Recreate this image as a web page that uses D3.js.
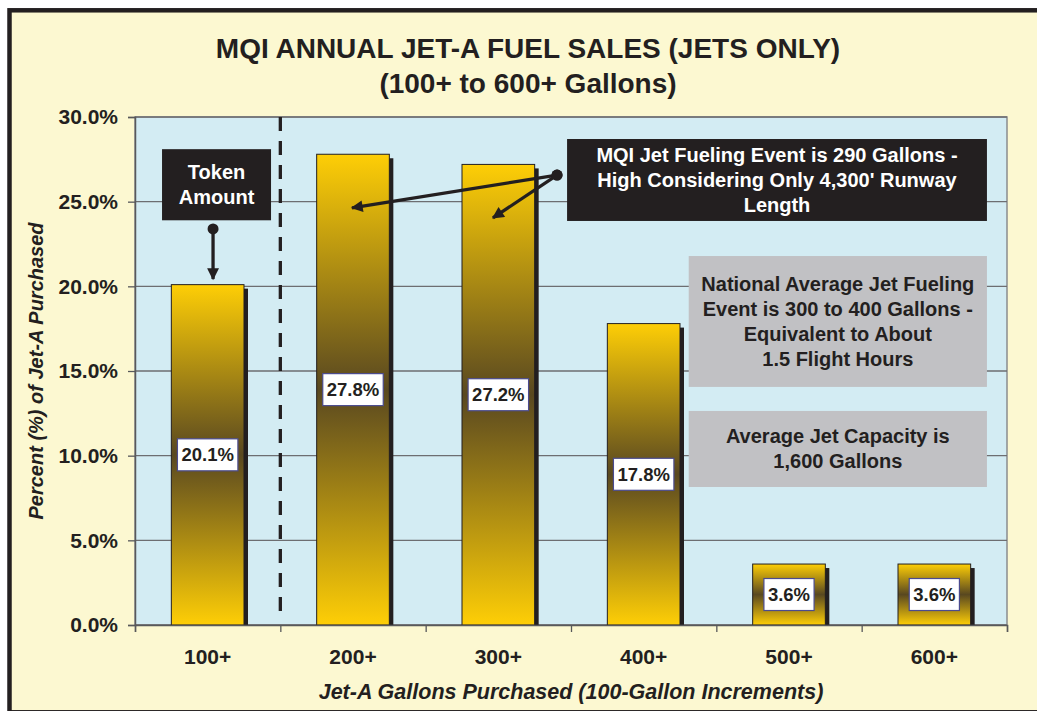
<!DOCTYPE html>
<html>
<head>
<meta charset="utf-8">
<script src="https://cdn.jsdelivr.net/npm/d3@7"></script>
<style>
  body { margin: 0; background: #ffffff; }
  text { font-family: "Liberation Sans", Arial, Helvetica, sans-serif; font-weight: bold; fill: #231f20; }
</style>
</head>
<body>
<svg id="chart" width="1037" height="711"></svg>
<script>
// Chart data
var categories = ["100+", "200+", "300+", "400+", "500+", "600+"];
var percents = [20.1, 27.8, 27.2, 17.8, 3.6, 3.6];
var yTicks = [0, 5, 10, 15, 20, 25, 30];

var titleLines = ["MQI ANNUAL JET-A FUEL SALES (JETS ONLY)", "(100+ to 600+ Gallons)"];
var yTitle = "Percent (%) of Jet-A Purchased";
var xTitle = "Jet-A Gallons Purchased (100-Gallon Increments)";

// Callout boxes, placed in chart units (x in category slots, y in percent)
var callouts = [
  { lines: ["Token", "Amount"], x0: 0.186, x1: 0.936, y0: 28.1, y1: 23.9, fill: "#231f20", color: "#ffffff" },
  { lines: ["MQI Jet Fueling Event is 290 Gallons -", "High Considering Only 4,300' Runway", "Length"],
    x0: 2.973, x1: 5.862, y0: 28.7, y1: 23.86, fill: "#231f20", color: "#ffffff" },
  { lines: ["National Average Jet Fueling", "Event is 300 to 400 Gallons -", "Equivalent to About", "1.5 Flight Hours"],
    x0: 3.81, x1: 5.862, y0: 21.79, y1: 14.06, fill: "#c1c1c4", color: "#231f20" },
  { lines: ["Average Jet Capacity is", "1,600 Gallons"],
    x0: 3.81, x1: 5.862, y0: 12.64, y1: 8.15, fill: "#c1c1c4", color: "#231f20" }
];

// Pointer arrows: start dot -> arrow tip
var pointers = [
  { fx: 0.537, fy: 23.39, tx: 0.537, ty: 20.43 },
  { fx: 2.904, fy: 26.57, tx: 1.493, ty: 24.63 },
  { fx: 2.904, fy: 26.57, tx: 2.463, ty: 24.04 }
];

var svgWidth = 1037;
var svgHeight = 711;
var margin = { top: 117, right: 30, bottom: 86, left: 135 };
var chartWidth = svgWidth - margin.left - margin.right;
var chartHeight = svgHeight - margin.top - margin.bottom;

var svg = d3.select("#chart");

// Gradient for bars: yellow - dark brown - yellow
var defs = svg.append("defs");
var grad = defs.append("linearGradient")
  .attr("id", "barGrad")
  .attr("x1", 0).attr("y1", 0).attr("x2", 0).attr("y2", 1);
grad.append("stop").attr("offset", "0%").attr("stop-color", "#fece06");
grad.append("stop").attr("offset", "50%").attr("stop-color", "#594820");
grad.append("stop").attr("offset", "100%").attr("stop-color", "#fece06");

defs.append("marker")
  .attr("id", "head")
  .attr("viewBox", "0 0 10 10")
  .attr("refX", 9).attr("refY", 5)
  .attr("markerWidth", 4.2).attr("markerHeight", 3.6)
  .attr("markerUnits", "strokeWidth")
  .attr("orient", "auto")
  .append("path")
  .attr("d", "M0,0 L10,5 L0,10 Z")
  .attr("fill", "#231f20");

// Outer frame
svg.append("rect")
  .attr("x", 9.5).attr("y", 10.3)
  .attr("width", 1045).attr("height", 702)
  .attr("fill", "#fcf8d1")
  .attr("stroke", "#231f20")
  .attr("stroke-width", 4.5);

// Title
svg.selectAll(".title")
  .data(titleLines)
  .enter().append("text")
  .attr("class", "title")
  .attr("x", 528)
  .attr("y", (d, i) => 58 + i * 35)
  .attr("text-anchor", "middle")
  .style("font-size", "28px")
  .text(d => d);

var chartGroup = svg.append("g")
  .attr("transform", `translate(${margin.left}, ${margin.top})`);

var xScale = d3.scaleBand()
  .domain(categories)
  .range([0, chartWidth])
  .paddingInner(0.5)
  .paddingOuter(0.25);

// continuous slot scale (0..6) used for boundaries and callouts
var xSlot = d3.scaleLinear()
  .domain([0, categories.length])
  .range([0, chartWidth]);

var yScale = d3.scaleLinear()
  .domain([0, 30])
  .range([chartHeight, 0]);

// Plot background
chartGroup.append("rect")
  .attr("width", chartWidth)
  .attr("height", chartHeight)
  .attr("fill", "#d3ecf3")
  .attr("stroke", "#8a8c8e")
  .attr("stroke-width", 1.5);

// Gridlines
chartGroup.selectAll(".grid")
  .data(yTicks)
  .enter().append("line")
  .attr("x1", 0).attr("x2", chartWidth)
  .attr("y1", d => yScale(d)).attr("y2", d => yScale(d))
  .attr("stroke", "#6d6e71")
  .attr("stroke-width", 1.3);

// Dashed divider between 100+ and 200+
chartGroup.append("line")
  .attr("x1", xSlot(1)).attr("x2", xSlot(1))
  .attr("y1", 0).attr("y2", chartHeight - 5)
  .attr("stroke", "#231f20")
  .attr("stroke-width", 3.3)
  .attr("stroke-dasharray", "14,10");

// Bars with shadow
var bars = chartGroup.selectAll(".bar")
  .data(percents)
  .enter().append("g")
  .attr("class", "bar");

bars.append("rect")
  .attr("x", (d, i) => xScale(categories[i]) + 4)
  .attr("y", d => yScale(d) + 4)
  .attr("width", xScale.bandwidth())
  .attr("height", d => chartHeight - yScale(d) - 4)
  .attr("fill", "#231f20");

bars.append("rect")
  .attr("x", (d, i) => xScale(categories[i]))
  .attr("y", d => yScale(d))
  .attr("width", xScale.bandwidth())
  .attr("height", d => chartHeight - yScale(d))
  .attr("fill", "url(#barGrad)")
  .attr("stroke", "#231f20")
  .attr("stroke-width", 1);

// Value labels
bars.each(function(d, i) {
  var g = d3.select(this);
  var cx = xScale(categories[i]) + xScale.bandwidth() / 2;
  var cy = (yScale(d) + chartHeight) / 2;
  var box = g.append("rect")
    .attr("fill", "#ffffff")
    .attr("stroke", "#4b4b8f")
    .attr("stroke-width", 1.2);
  var t = g.append("text")
    .attr("x", cx)
    .attr("y", cy)
    .attr("dy", "0.36em")
    .attr("text-anchor", "middle")
    .style("font-size", "18.5px")
    .text(d.toFixed(1) + "%");
  var w = t.node().getComputedTextLength() + 8;
  box.attr("x", cx - w / 2).attr("y", cy - 16)
    .attr("width", w).attr("height", 32);
});

// Axes
var leftAxis = d3.axisLeft(yScale)
  .tickValues(yTicks)
  .tickSize(7)
  .tickPadding(10)
  .tickFormat(d => d.toFixed(1) + "%");

var yAxisG = chartGroup.append("g")
  .classed("axis", true)
  .call(leftAxis);
yAxisG.select(".domain").attr("stroke", "#58595b").attr("stroke-width", 1.5);
yAxisG.selectAll(".tick line").attr("stroke", "#58595b").attr("stroke-width", 1.3);
yAxisG.selectAll(".tick text")
  .style("font-size", "21px")
  .style("font-family", "'Liberation Sans', Arial, sans-serif")
  .style("font-weight", "bold")
  .attr("fill", "#231f20");

var boundaryAxis = d3.axisBottom(xSlot)
  .tickValues(d3.range(categories.length + 1))
  .tickSize(7)
  .tickFormat("");

var bAxisG = chartGroup.append("g")
  .attr("transform", "translate(0, " + chartHeight + ")")
  .call(boundaryAxis);
bAxisG.select(".domain").attr("stroke", "#58595b").attr("stroke-width", 1.5);
bAxisG.selectAll(".tick line").attr("stroke", "#58595b").attr("stroke-width", 1.3);

var bottomAxis = d3.axisBottom(xScale).tickSize(0).tickPadding(24);
var xAxisG = chartGroup.append("g")
  .attr("transform", "translate(0, " + chartHeight + ")")
  .call(bottomAxis);
xAxisG.select(".domain").remove();
xAxisG.selectAll(".tick text")
  .style("font-size", "21px")
  .style("font-family", "'Liberation Sans', Arial, sans-serif")
  .style("font-weight", "bold")
  .attr("fill", "#231f20");

// Axis titles
svg.append("text")
  .attr("transform", `translate(43, ${margin.top + chartHeight / 2}) rotate(-90)`)
  .attr("text-anchor", "middle")
  .style("font-size", "20px")
  .style("font-style", "italic")
  .text(yTitle);

svg.append("text")
  .attr("x", margin.left + chartWidth / 2)
  .attr("y", 699)
  .attr("text-anchor", "middle")
  .style("font-size", "21.5px")
  .style("font-style", "italic")
  .text(xTitle);

// Callout boxes
callouts.forEach(function(c) {
  var x0 = xSlot(c.x0), x1 = xSlot(c.x1);
  var y0 = yScale(c.y0), y1 = yScale(c.y1);
  chartGroup.append("rect")
    .attr("x", x0).attr("y", y0)
    .attr("width", x1 - x0).attr("height", y1 - y0)
    .attr("fill", c.fill);
  var cx = (x0 + x1) / 2, cy = (y0 + y1) / 2;
  chartGroup.selectAll(null)
    .data(c.lines)
    .enter().append("text")
    .attr("x", cx)
    .attr("y", (d, i) => cy + (i - (c.lines.length - 1) / 2) * 25 + 7)
    .attr("text-anchor", "middle")
    .style("font-size", "20px")
    .style("fill", c.color)
    .text(d => d);
});

// Pointers
pointers.forEach(function(p) {
  chartGroup.append("line")
    .attr("x1", xSlot(p.fx)).attr("y1", yScale(p.fy))
    .attr("x2", xSlot(p.tx)).attr("y2", yScale(p.ty))
    .attr("stroke", "#231f20")
    .attr("stroke-width", 3.3)
    .attr("marker-end", "url(#head)");
  chartGroup.append("circle")
    .attr("cx", xSlot(p.fx)).attr("cy", yScale(p.fy))
    .attr("r", 5.5)
    .attr("fill", "#231f20");
});
</script>
</body>
</html>
